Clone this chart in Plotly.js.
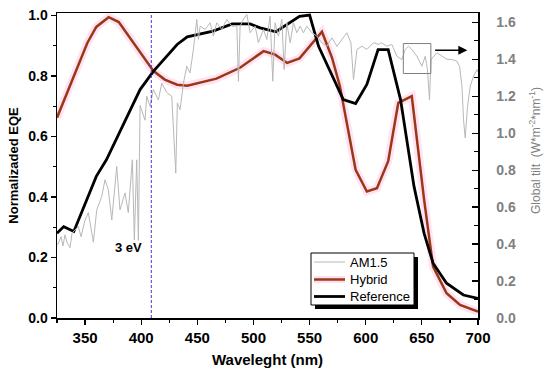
<!DOCTYPE html>
<html>
<head>
<meta charset="utf-8">
<script src="https://cdn.plot.ly/plotly-3.0.1.min.js"></script>
<style>html,body{margin:0;padding:0;background:#fff;}#chart{width:550px;height:379px;}</style>
</head>
<body>
<div id="chart"></div>
<script>
// AM1.5 global tilt spectrum (right axis, W*m^-2*nm^-1)
var am15Wavelength = [325,325.9,328.6,330.3,332.1,333.9,336.6,338.4,344.0,346.4,350.0,352.9,357.4,360.4,364.8,367.8,370.7,373.8,378.2,381.1,385.6,388.5,392.1,393.9,396.0,397.5,399.0,403.4,404.9,407.9,410.8,415.3,418.3,422.8,427.2,428.7,430.8,432.2,434.6,437.6,440.6,443.5,446.5,449.5,451.0,452.5,456.9,461.4,464.3,467.3,471.8,476.2,480.7,485.2,486.6,488.1,491.0,494.1,497.0,501.5,504.4,508.9,511.9,514.8,517.2,519.3,522.2,525.3,527.3,529.7,532.7,535.6,538.6,541.6,544.5,547.5,552.0,556.5,560.9,565.4,569.8,574.3,578.7,583.2,586.8,589.1,592.2,596.6,601.0,606.9,611.4,614.0,618.8,623.3,627.8,632.2,635.2,638.1,641.1,645.6,650.0,653.0,655.0,656.8,658.1,660.4,663.4,667.9,672.3,676.8,681.2,683.6,685.7,687.1,688.6,690.7,693.1,696.0,699.1,700];
var am15Irradiance = [0.40,0.40,0.44,0.39,0.45,0.41,0.38,0.46,0.495,0.44,0.53,0.57,0.41,0.585,0.657,0.748,0.694,0.53,0.82,0.585,0.677,0.57,0.856,0.423,0.856,0.42,1.15,1.07,1.20,1.145,1.236,1.18,1.27,1.22,1.20,1.037,0.784,1.164,1.127,1.27,1.362,1.326,1.453,1.615,1.507,1.579,1.561,1.597,1.525,1.597,1.561,1.615,1.579,1.579,1.281,1.579,1.615,1.642,1.543,1.579,1.489,1.561,1.507,1.633,1.281,1.597,1.525,1.615,1.344,1.597,1.489,1.597,1.543,1.579,1.543,1.579,1.543,1.525,1.489,1.47,1.516,1.47,1.507,1.543,1.489,1.29,1.453,1.47,1.453,1.489,1.48,1.489,1.47,1.48,1.416,1.398,1.453,1.47,1.453,1.416,1.362,1.416,1.344,1.18,1.398,1.416,1.435,1.416,1.40,1.398,1.39,1.36,1.254,1.073,0.974,1.145,1.254,1.308,1.344,1.33];

// Hybrid normalized EQE
var hybridWavelength = [325,352,360,371,380,396,411,421,432,441,467,488,509,519,530,541,555,561,570,577,591,601,610,620,629,641,652,660,672,684,700];
var hybridEQE = [0.662,0.909,0.962,0.994,0.978,0.893,0.816,0.788,0.771,0.768,0.791,0.827,0.882,0.871,0.843,0.858,0.921,0.946,0.86,0.766,0.49,0.418,0.429,0.518,0.711,0.733,0.391,0.17,0.082,0.043,0.021];

// Reference normalized EQE
var refWavelength = [325,331,340,348,353,360,369,384,399,411,432,441,450,464,481,497,506,520,541,550,558,570,580,591,601,611,620,631,643,652,660,672,687,700];
var refEQE = [0.28,0.302,0.286,0.358,0.40,0.468,0.523,0.64,0.755,0.816,0.904,0.929,0.937,0.948,0.972,0.972,0.959,0.946,0.997,1.001,0.898,0.799,0.722,0.709,0.772,0.887,0.887,0.722,0.435,0.28,0.181,0.115,0.076,0.065];

var seriesNames = ['AM1.5', 'Hybrid', 'Reference'];
var seriesColors = ['#b8b8b8', '#9a3816', '#000000'];
var seriesWidths = [1, 2.5, 2.8];

var xTickVals = [350,400,450,500,550,600,650,700];
var yTickVals = [0.0,0.2,0.4,0.6,0.8,1.0];
var y2TickVals = [0.0,0.2,0.4,0.6,0.8,1.0,1.2,1.4,1.6];

var bandgapWavelength = 409;
var bandgapLabel = '3 eV';

var F = '"Liberation Sans", Arial, sans-serif';

// plot-area geometry (px) for paper-coordinate placement of the legend
var L = 57, T = 13, W = 421, H = 305;
function px(x) { return (x - L) / W; }
function py(y) { return (T + H - y) / H; }

var traces = [
  {x: am15Wavelength, y: am15Irradiance, yaxis: 'y2', type: 'scatter', mode: 'lines', name: seriesNames[0],
   line: {color: seriesColors[0], width: seriesWidths[0]}},
  {x: hybridWavelength, y: hybridEQE, type: 'scatter', mode: 'lines', hoverinfo: 'skip',
   line: {color: 'rgba(255,160,215,0.3)', width: 8}},
  {x: hybridWavelength, y: hybridEQE, type: 'scatter', mode: 'lines', name: seriesNames[1],
   line: {color: seriesColors[1], width: seriesWidths[1]}},
  {x: refWavelength, y: refEQE, type: 'scatter', mode: 'lines', name: seriesNames[2],
   line: {color: seriesColors[2], width: seriesWidths[2]}}
];

var shapes = [
  {type: 'line', xref: 'x', yref: 'paper', x0: bandgapWavelength, x1: bandgapWavelength, y0: 0, y1: 1,
   line: {color: '#3b3bd8', width: 1, dash: '3px,2px'}},
  {type: 'rect', xref: 'x', yref: 'y', x0: 633.5, x1: 658, y0: 0.808, y1: 0.907,
   line: {color: '#7f7f7f', width: 1}},
  // legend shadow and box
  {type: 'rect', xref: 'paper', yref: 'paper', x0: px(315), x1: px(418), y0: py(309), y1: py(257),
   fillcolor: '#000', line: {width: 0}, layer: 'above'},
  {type: 'rect', xref: 'paper', yref: 'paper', x0: px(311), x1: px(414), y0: py(305), y1: py(253),
   fillcolor: '#fff', line: {color: '#000', width: 1}, layer: 'above'},
  {type: 'line', xref: 'paper', yref: 'paper', x0: px(314), x1: px(345), y0: py(279.5), y1: py(279.5),
   line: {color: 'rgba(255,160,215,0.35)', width: 7}, layer: 'above'}
];
var legendRows = [262, 279.5, 296.5];
var annotations = [];
for (var i = 0; i < 3; i++) {
  shapes.push({type: 'line', xref: 'paper', yref: 'paper', x0: px(314), x1: px(345), y0: py(legendRows[i]), y1: py(legendRows[i]),
    line: {color: seriesColors[i], width: seriesWidths[i]}, layer: 'above'});
  annotations.push({xref: 'paper', yref: 'paper', x: px(348), y: py(legendRows[i]), xanchor: 'left', yanchor: 'middle',
    text: seriesNames[i], showarrow: false, font: {family: F, size: 13, color: '#000'}});
}
annotations.push(
  {x: 389, y: 0.232, xref: 'x', yref: 'y', xanchor: 'center', yanchor: 'middle', text: bandgapLabel, showarrow: false,
   font: {family: F, size: 13, color: '#000', weight: 'bold'}},
  {x: 690.5, y: 0.885, ax: 660.5, ay: 0.885, xref: 'x', yref: 'y', axref: 'x', ayref: 'y', text: '',
   showarrow: true, arrowhead: 2, arrowsize: 1.2, arrowwidth: 1.5, arrowcolor: '#000'},
  {x: px(535), y: py(151), xref: 'paper', yref: 'paper', xanchor: 'center', yanchor: 'middle', textangle: -90, showarrow: false,
   text: 'Global tilt  (W*m<sup>-2</sup>*nm<sup>-1</sup>)',
   font: {family: F, size: 12, color: '#7f7f7f'}}
);

var layout = {
  width: 550, height: 379,
  margin: {l: 57, r: 72, t: 13, b: 61},
  paper_bgcolor: '#ffffff', plot_bgcolor: '#ffffff',
  font: {family: F, color: '#000'},
  showlegend: false,
  xaxis: {range: [325, 700], showgrid: false, zeroline: false, showline: true, linecolor: '#000', linewidth: 1.5,
    mirror: true, ticks: 'outside', ticklen: 5, tickwidth: 1.2, tickcolor: '#000', tickvals: xTickVals,
    tickfont: {family: F, size: 15, color: '#000', weight: 'bold'},
    minor: {dtick: 25, ticks: 'outside', ticklen: 3, tickcolor: '#000', showgrid: false},
    title: {text: 'Waveleght (nm)', font: {family: F, size: 15, color: '#000', weight: 'bold'}, standoff: 10}},
  yaxis: {range: [0, 1.008], showgrid: false, zeroline: false, showline: true, linecolor: '#000', linewidth: 1.5,
    ticks: 'outside', ticklen: 5, tickwidth: 1.2, tickcolor: '#000', tickvals: yTickVals, tickformat: '.1f',
    tickfont: {family: F, size: 14, color: '#000', weight: 'bold'},
    minor: {dtick: 0.1, ticks: 'outside', ticklen: 3, tickcolor: '#000', showgrid: false},
    title: {text: 'Normalizaded EQE', font: {family: F, size: 13, color: '#000', weight: 'bold'}, standoff: 6}},
  yaxis2: {overlaying: 'y', side: 'right', range: [0, 1.65], showgrid: false, zeroline: false, showline: true,
    linecolor: '#000', linewidth: 1.5, ticks: 'inside', ticklen: 6, tickwidth: 1.2, tickcolor: '#000',
    tickvals: y2TickVals, tickformat: '.1f', ticklabelstandoff: 14,
    tickfont: {family: F, size: 14, color: '#7f7f7f', weight: 'bold'},
    minor: {dtick: 0.1, ticks: 'inside', ticklen: 4, tickcolor: '#000', showgrid: false}},
  shapes: shapes,
  annotations: annotations
};

Plotly.newPlot('chart', traces, layout, {displayModeBar: false, staticPlot: true});
</script>
</body>
</html>
